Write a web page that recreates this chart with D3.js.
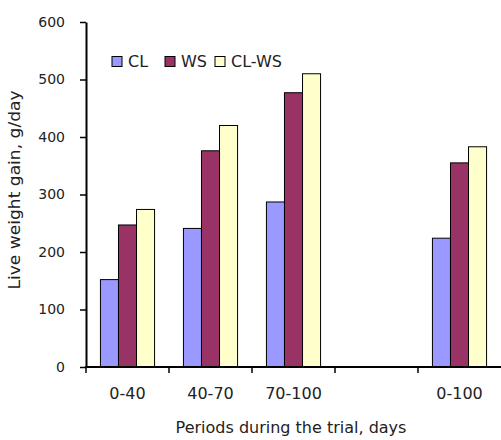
<!DOCTYPE html>
<html>
<head>
<meta charset="utf-8">
<script src="https://cdn.jsdelivr.net/npm/d3@7"></script>
<style>
  html, body { margin: 0; padding: 0; background: #fff; }
  svg { display: block; font-family: "DejaVu Sans", Verdana, sans-serif; }
</style>
</head>
<body>
<svg id="chart" width="501" height="440"></svg>
<script>
// Live weight gain by trial period (g/day)
const periods = ["0-40", "40-70", "70-100", "", "0-100"];
const seriesNames = ["CL", "WS", "CL-WS"];
const valuesCL   = [152, 241, 287, null, 224];
const valuesWS   = [247, 376, 477, null, 355];
const valuesCLWS = [274, 420, 510, null, 383];
const yTicks = [0, 100, 200, 300, 400, 500, 600];
const colors = ["#9999ff", "#993366", "#ffffcc"];

const series = [valuesCL, valuesWS, valuesCLWS];

const svg = d3.select("#chart");
const margin = { left: 86, right: 0, top: 22, bottom: 73 };
const width = 501, height = 440;

const x = d3.scaleBand()
  .domain(d3.range(periods.length))
  .range([margin.left, width - margin.right])
  .paddingInner(0).paddingOuter(0);

const inner = d3.scaleBand()
  .domain(d3.range(seriesNames.length))
  .range([0, x.bandwidth()])
  .paddingInner(0)
  .paddingOuter(0.8);

const y = d3.scaleLinear()
  .domain([0, 600])
  .range([height - margin.bottom, margin.top]);

// Bars
const groups = svg.append("g").selectAll("g")
  .data(periods.map((p, i) => i))
  .join("g")
  .attr("transform", i => `translate(${x(i)},0)`);

groups.selectAll("rect")
  .data(i => series.map((s, k) => ({ k, v: s[i] })).filter(d => d.v != null))
  .join("rect")
  .attr("x", d => inner(d.k))
  .attr("width", inner.bandwidth())
  .attr("y", d => y(d.v))
  .attr("height", d => y(0) - y(d.v))
  .attr("fill", d => colors[d.k])
  .attr("stroke", "#000")
  .attr("stroke-width", 1);

// Y axis
const yAxis = svg.append("g")
  .attr("transform", `translate(${margin.left},0)`)
  .call(d3.axisLeft(y).tickValues(yTicks).tickSize(6).tickPadding(15).tickSizeOuter(0));
yAxis.select(".domain").attr("stroke", "#000").attr("stroke-width", 2);
yAxis.selectAll(".tick line").attr("stroke", "#000").attr("stroke-width", 1.5);
yAxis.selectAll("text")
  .attr("font-size", 14).attr("fill", "#222")
  .attr("font-family", "DejaVu Sans, Verdana, sans-serif");

// X axis with ticks at category boundaries
const xAxisG = svg.append("g")
  .attr("transform", `translate(0,${y(0)})`);
xAxisG.append("line")
  .attr("x1", margin.left - 1).attr("x2", width)
  .attr("stroke", "#000").attr("stroke-width", 2);
xAxisG.selectAll("line.tk")
  .data(d3.range(periods.length))
  .join("line")
  .attr("class", "tk")
  .attr("x1", i => x(i)).attr("x2", i => x(i))
  .attr("y1", 0).attr("y2", 6)
  .attr("stroke", "#000").attr("stroke-width", 1.5);
xAxisG.selectAll("text")
  .data(periods)
  .join("text")
  .attr("x", (d, i) => x(i) + x.bandwidth() / 2)
  .attr("y", 32)
  .attr("text-anchor", "middle")
  .attr("font-size", 16)
  .attr("fill", "#222")
  .text(d => d);

// Axis titles
svg.append("text")
  .attr("transform", "translate(20,190) rotate(-90) scale(1.14,1)")
  .attr("text-anchor", "middle")
  .attr("font-size", 15)
  .attr("fill", "#222")
  .text("Live weight gain, g/day");

svg.append("text")
  .attr("x", 291).attr("y", 433)
  .attr("text-anchor", "middle")
  .attr("font-size", 16)
  .attr("fill", "#222")
  .text("Periods during the trial, days");

// Legend
const legendX = [112, 165, 215];
const legend = svg.append("g").selectAll("g")
  .data(seriesNames)
  .join("g")
  .attr("transform", (d, i) => `translate(${legendX[i]},56.5)`);
legend.append("rect")
  .attr("width", 10).attr("height", 10)
  .attr("fill", (d, i) => colors[i])
  .attr("stroke", "#000").attr("stroke-width", 1);
legend.append("text")
  .attr("x", 16).attr("y", 10)
  .attr("font-size", 16)
  .attr("fill", "#222")
  .text(d => d);
</script>
</body>
</html>
